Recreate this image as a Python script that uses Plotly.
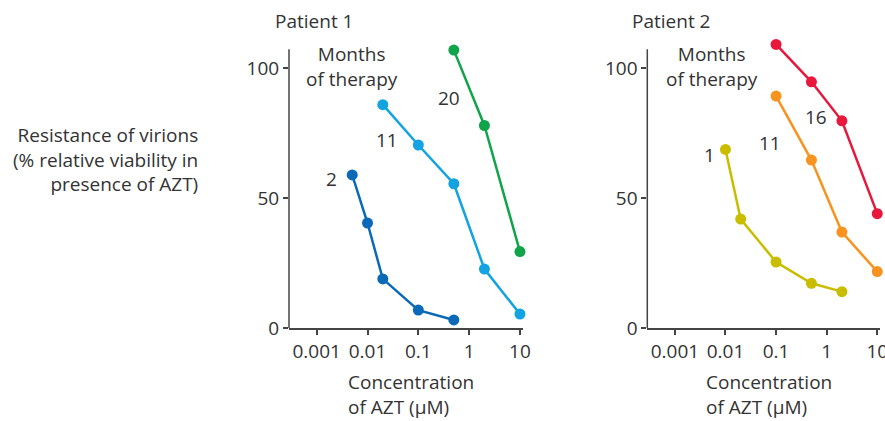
import plotly.graph_objects as go

# Patient 1
p1_m2_x = [0.005, 0.01, 0.02, 0.1, 0.5]
p1_m2_y = [59, 40.5, 19, 7, 3.2]
p1_m11_x = [0.02, 0.1, 0.5, 2, 10]
p1_m11_y = [86, 70.5, 55.6, 22.8, 5.5]
p1_m20_x = [0.5, 2, 10]
p1_m20_y = [107, 78, 29.5]

# Patient 2
p2_m1_x = [0.01, 0.02, 0.1, 0.5, 2]
p2_m1_y = [68.8, 42, 25.5, 17.3, 14.1]
p2_m11_x = [0.1, 0.5, 2, 10]
p2_m11_y = [89.3, 64.7, 37, 21.8]
p2_m16_x = [0.1, 0.5, 2, 10]
p2_m16_y = [109.2, 94.8, 79.8, 44.1]

tick_vals = [0.001, 0.01, 0.1, 1, 10]
tick_text = ["0.001", "0.01", "0.1", "1", "10"]
y_ticks = [0, 50, 100]
y_axis_top = 107.3

FONT = "Open Sans"
TXT = "#333333"
AX = "#444444"
FS = 19

fig = go.Figure()

def add(x, y, color, xa, ya):
    fig.add_trace(go.Scatter(x=x, y=y, mode="lines+markers",
                             line=dict(color=color, width=2.5),
                             marker=dict(color=color, size=11),
                             cliponaxis=False, xaxis=xa, yaxis=ya,
                             showlegend=False, hoverinfo="skip"))

add(p1_m2_x, p1_m2_y, "#0a6ab8", "x", "y")
add(p1_m11_x, p1_m11_y, "#12a3e0", "x", "y")
add(p1_m20_x, p1_m20_y, "#10a54a", "x", "y")
add(p2_m1_x, p2_m1_y, "#c9bd00", "x2", "y2")
add(p2_m11_x, p2_m11_y, "#f7931e", "x2", "y2")
add(p2_m16_x, p2_m16_y, "#e8173c", "x2", "y2")

xr = [-3.545, 1.06]
yr = [0, 111]
ydom = [0.2202, 0.9057]

xcommon = dict(type="log", range=xr, tickvals=tick_vals, ticktext=tick_text,
               showgrid=False, zeroline=False, showline=True, linecolor=AX,
               linewidth=1.5, ticks="outside", ticklen=5, tickcolor=AX,
               tickwidth=1.5, tickfont=dict(family=FONT, size=FS, color=TXT),
               ticklabeloverflow="allow", automargin=False, fixedrange=True)
ycommon = dict(range=yr, domain=ydom, tickvals=y_ticks,
               showgrid=False, zeroline=False, showline=False,
               ticks="outside", ticklen=5, tickcolor=AX,
               tickwidth=1.5, tickfont=dict(family=FONT, size=FS, color=TXT),
               automargin=False, fixedrange=True)

fig.update_layout(
    template="none",
    width=885, height=421,
    margin=dict(l=0, r=0, t=0, b=0),
    paper_bgcolor="white", plot_bgcolor="white",
    showlegend=False,
    xaxis=dict(domain=[289/885, 523/885], anchor="y", **xcommon),
    yaxis=dict(anchor="x", **ycommon),
    xaxis2=dict(domain=[647.3/885, 880.3/885], anchor="y2", **xcommon),
    yaxis2=dict(anchor="x2", **ycommon),
)

# vertical axis lines (stop at the top of the drawn axis)
for xa, ya in [("x", "y"), ("x2", "y2")]:
    fig.add_shape(type="line", xref=f"{xa} domain", yref=ya, x0=0, x1=0,
                  y0=0, y1=y_axis_top, line=dict(color=AX, width=1.5), layer="below")

def ann(text, x, y, xanchor="center", align="center", size=FS):
    fig.add_annotation(text=text, x=x/885, y=1 - y/421, xref="paper", yref="paper",
                       xanchor=xanchor, yanchor="middle", align=align,
                       showarrow=False, font=dict(family=FONT, size=size, color=TXT))

ann("Patient 1", 272.7, 21, xanchor="left")
ann("Patient 2", 630, 21, xanchor="left")
ann("Months<br>of therapy", 351.7, 67)
ann("Months<br>of therapy", 711.7, 67)
ann("2", 331.7, 179)
ann("11", 386.7, 140)
ann("20", 449.3, 98.3)
ann("1", 709.3, 155)
ann("11", 770, 143.3)
ann("16", 816, 116.7)
ann("Resistance of virions<br>(% relative viability in<br>presence of AZT)", 200, 160,
    xanchor="right", align="right")
ann("Concentration<br>of AZT (μM)", 346, 394, xanchor="left", align="left")
ann("Concentration<br>of AZT (μM)", 704, 394, xanchor="left", align="left")

fig.write_html("out.html")
